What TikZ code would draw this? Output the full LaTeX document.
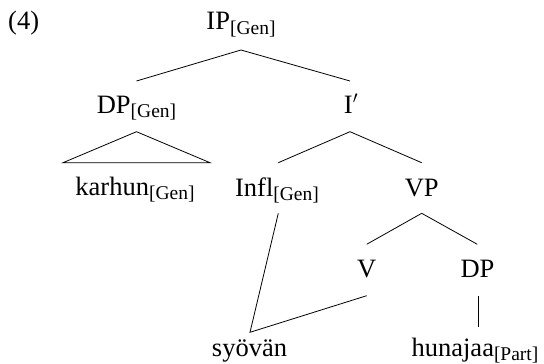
\documentclass[tikz,border=0pt]{standalone}
\usepackage{fontspec}
\setmainfont{Liberation Serif}
\usetikzlibrary{calc}
\newcommand{\lsub}[1]{\raisebox{-4.5pt}{\fontsize{19.5}{22}\selectfont #1}}
\begin{document}
\begin{tikzpicture}[x=1pt,y=1pt,
  lab/.style={anchor=base,inner sep=0pt,font=\fontsize{26.5}{30}\selectfont},
  edge/.style={line width=0.8pt}]
\useasboundingbox (0,0) rectangle (544,-364);
\node[lab,anchor=base west] (ex) at (8,-30) {(4)};
\node[lab] (ip) at (241,-30) {IP\lsub{[Gen]}};
\node[lab] (dpg) at (136.5,-113) {DP\lsub{[Gen]}};
\node[lab] (ib) at (351,-113) {I$'$};
\node[lab] (kar) at (135,-195) {karhun\lsub{[Gen]}};
\node[lab] (infl) at (277,-196) {Infl\lsub{[Gen]}};
\node[lab] (vp) at (421.7,-196) {VP};
\node[lab] (v) at (366.7,-277) {V};
\node[lab] (dp) at (477.5,-277) {DP};
\node[lab] (syo) at (249.5,-356) {syövän};
\node[lab] (hun) at (475,-356) {hunajaa\lsub{[Part]}};
% edges
\draw[edge] ([yshift=-20pt]ip.base) -- ([yshift=32pt]dpg.base);
\draw[edge] ([yshift=-20pt]ip.base) -- ([xshift=-1pt,yshift=32pt]ib.base);
\draw[edge] ([xshift=-1pt,yshift=-18.7pt]ib.base) -- ([xshift=1.3pt,yshift=33.3pt]infl.base);
\draw[edge] ([xshift=-1pt,yshift=-18.7pt]ib.base) -- ([yshift=33.3pt]vp.base);
\draw[edge] ([yshift=-18.7pt]dpg.base) -- ($(kar.base)+(-72,32.3)$) -- ($(kar.base)+(75,32.3)$) -- cycle;
\draw[edge] ([yshift=-17.3pt]vp.base) -- ([yshift=32.7pt]v.base);
\draw[edge] ([yshift=-17.3pt]vp.base) -- ([xshift=-0.2pt,yshift=32.7pt]dp.base);
\draw[edge] ([xshift=1.3pt,yshift=-17.3pt]infl.base) -- ([xshift=0.5pt,yshift=23.7pt]syo.base) -- ([yshift=-18.7pt]v.base);
\draw[edge] ([xshift=0.8pt,yshift=-19pt]dp.base) -- ([xshift=3.3pt,yshift=29.3pt]hun.base);
\end{tikzpicture}
\end{document}
